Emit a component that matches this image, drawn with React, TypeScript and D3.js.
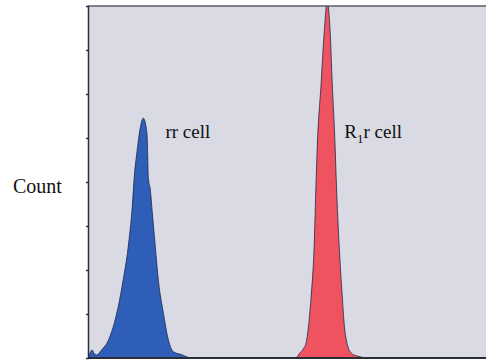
import React, { useEffect, useRef } from 'react';
import * as d3 from 'd3';

// channel values (x) and counts (in thousands)
const rrChannel = [0, 1, 2, 3, 4.5, 6, 8, 9.5, 11, 12.5, 15, 17.5, 20, 22, 23, 24.5, 26, 27.5, 29, 29.5, 30, 31, 32, 33.5, 35, 37.5, 40, 42.5, 47, 49.5, 52];
const rrCount = [0, 0.11, 0.18, 0.11, 0.07, 0.14, 0.25, 0.34, 0.5, 0.7, 1.16, 1.77, 2.52, 3.43, 4.11, 4.73, 5.23, 5.45, 5.23, 4.95, 4.11, 3.82, 3.3, 2.52, 1.77, 1.02, 0.41, 0.14, 0.07, 0.02, 0];

const r1rChannel = [102, 104, 105, 107, 108.5, 110, 111, 112.5, 113.5, 114, 116, 117.5, 119, 120.5, 121.5, 123, 123.5, 125, 126.5, 127.5, 128.5, 131, 133.5, 136, 138];
const r1rCount = [0, 0.02, 0.09, 0.2, 0.34, 0.86, 1.39, 2.52, 4.05, 4.73, 6.25, 7.39, 8.1, 7.39, 6.25, 4.73, 4.05, 2.52, 1.39, 0.75, 0.41, 0.11, 0.05, 0.02, 0];

const yTicks = [1, 2, 3, 4, 5, 6, 7];

const serif = "'Liberation Serif', 'DejaVu Serif', 'Times New Roman', Times, serif";

const App: React.FC = () => {
    const chartRef = useRef<SVGSVGElement | null>(null);

    useEffect(() => {
        if (!chartRef.current) return;

        const width = 486;
        const height = 360;
        const margin = { top: 6, right: -4, bottom: 2, left: 88 };
        const innerW = width - margin.left - margin.right;
        const innerH = height - margin.top - margin.bottom;

        d3.select(chartRef.current).selectAll('*').remove();

        const root = d3.select(chartRef.current)
            .attr('width', width)
            .attr('height', height);

        const svg = root.append('g')
            .attr('transform', `translate(${margin.left}, ${margin.top})`);

        const x = d3.scaleLinear().domain([0, 200]).range([0, innerW]);
        const y = d3.scaleLinear().domain([0, 8]).range([innerH, 0]);

        // plot background
        svg.append('rect')
            .attr('width', innerW)
            .attr('height', innerH)
            .attr('fill', '#d9dae3');

        svg.append('clipPath').attr('id', 'plotclip')
            .append('rect').attr('width', innerW).attr('height', innerH);

        const drawPeak = (xs: number[], ys: number[], fill: string) => {
            const a = d3.area<number>()
                .x((d, i) => x(xs[i]))
                .y0(innerH)
                .y1(d => y(d))
                .curve(d3.curveMonotoneX);
            svg.append('path')
                .datum(ys)
                .attr('clip-path', 'url(#plotclip)')
                .attr('fill', fill)
                .attr('stroke', '#1d2a4a')
                .attr('stroke-width', 0.8)
                .attr('d', a);
        };

        drawPeak(rrChannel, rrCount, '#2f5eb8');
        drawPeak(r1rChannel, r1rCount, '#ef5360');

        // frame: top line, left axis, bottom axis
        svg.append('line')
            .attr('x1', 0).attr('x2', innerW)
            .attr('y1', 0).attr('y2', 0)
            .attr('stroke', '#5a5c66').attr('stroke-width', 1.5);

        const yAxis = svg.append('g')
            .call(d3.axisLeft(y).tickValues(yTicks).tickSize(2).tickFormat(() => ''));
        yAxis.select('.domain').attr('stroke', '#2b3040').attr('stroke-width', 1.5);
        yAxis.selectAll('.tick line').attr('stroke', '#2b3040').attr('stroke-width', 1.5);

        svg.append('line')
            .attr('x1', 0).attr('x2', innerW)
            .attr('y1', innerH).attr('y2', innerH)
            .attr('stroke', '#2b2d35').attr('stroke-width', 2);

        // labels
        root.append('text')
            .attr('x', 13).attr('y', 193)
            .attr('font-family', serif)
            .attr('font-size', 20)
            .attr('fill', '#111')
            .text('Count');

        svg.append('text')
            .attr('x', x(38.5)).attr('y', y(5.0))
            .attr('font-family', serif)
            .attr('font-size', 19)
            .attr('fill', '#111')
            .text('rr cell');

        const t2 = svg.append('text')
            .attr('x', x(127.5)).attr('y', y(5.0))
            .attr('font-family', serif)
            .attr('font-size', 19)
            .attr('fill', '#111');
        t2.append('tspan').text('R');
        t2.append('tspan').attr('dy', 5).attr('font-size', 13).text('1');
        t2.append('tspan').attr('dy', -5).text('r cell');
    }, []);

    return <svg ref={chartRef} style={{ position: 'absolute', left: 0, top: 0 }} />;
};

export default App;
